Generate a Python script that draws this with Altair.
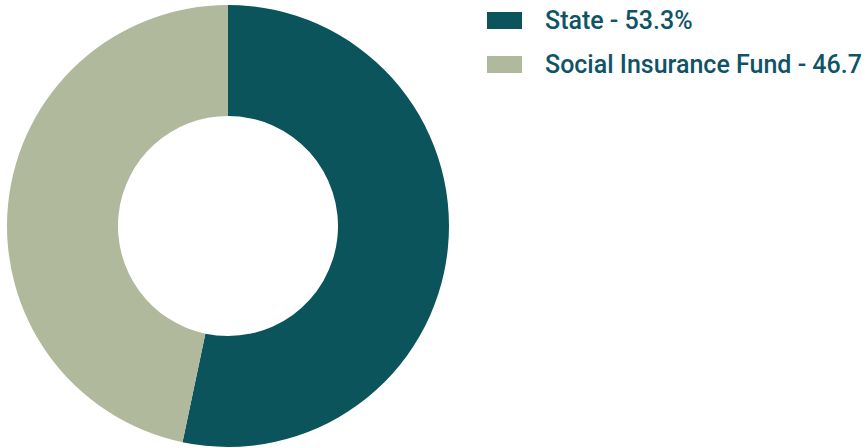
import altair as alt
import pandas as pd

categories = ["State", "Social Insurance Fund"]
values = [53.3, 46.7]
labels = ["State - 53.3%", "Social Insurance Fund - 46.7"]
colors = ["#0c545b", "#b0b99c"]

df = pd.DataFrame({"category": categories, "value": values, "label": labels, "order": [0, 1]})

chart = alt.Chart(df).mark_arc(outerRadius=221, innerRadius=110).encode(
    theta=alt.Theta("value:Q", stack=True),
    order=alt.Order("order:Q"),
    x=alt.value(228),
    y=alt.value(226),
    color=alt.Color(
        "label:N",
        scale=alt.Scale(domain=labels, range=colors),
        sort=labels,
        legend=alt.Legend(
            title=None,
            orient="none",
            legendX=487,
            legendY=3,
            symbolType="M-1,-0.486H1V0.486H-1Z",
            symbolSize=1225,
            symbolStrokeWidth=0,
            symbolOpacity=1,
            labelFont="Roboto",
            labelFontSize=25,
            labelFontWeight=500,
            labelColor="#0f5466",
            labelOffset=23,
            rowPadding=13,
            labelLimit=500,
            padding=0,
        ),
    ),
).properties(width=865, height=448, padding=0, autosize=alt.AutoSizeParams(type="none")).configure_view(stroke=None)

chart.save("out.html", embed_options={"renderer": "svg", "actions": False})
